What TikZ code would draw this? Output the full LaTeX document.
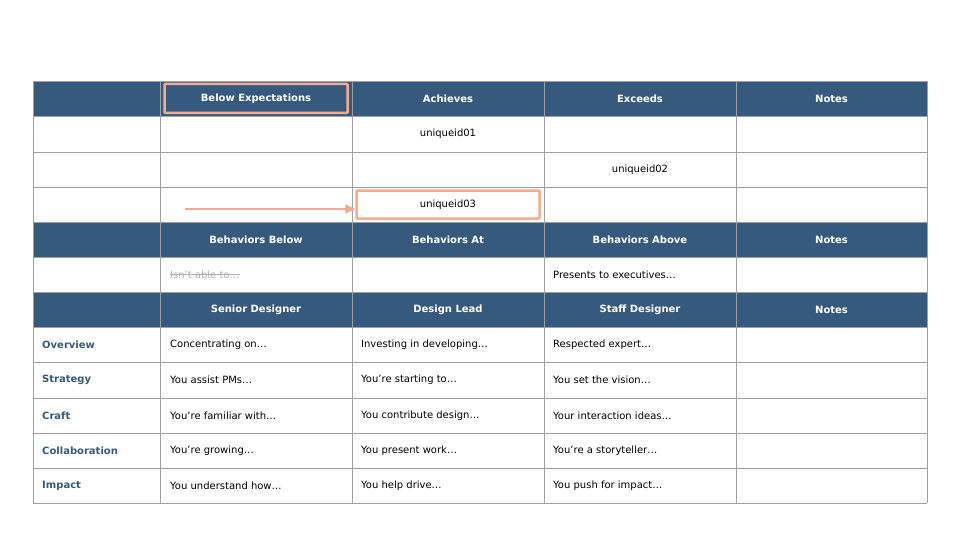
\documentclass[tikz,border=0pt]{standalone}
\usepackage{fontspec}
\setmainfont{DejaVu Sans}
\usetikzlibrary{arrows.meta}
\definecolor{hdr}{HTML}{355A7D}
\definecolor{hl}{HTML}{F5AB8C}
\definecolor{gridc}{HTML}{A0A0A0}
\tikzset{
  cell/.style={font=\fontsize{10}{12}\selectfont, text=black, inner sep=0pt},
  hcell/.style={font=\fontsize{10}{12}\selectfont\bfseries, text=white, inner sep=0pt},
  lcell/.style={font=\fontsize{10}{12}\selectfont\bfseries, text=hdr, anchor=west, inner sep=0pt},
  tcell/.style={cell, anchor=west},
  hlbox/.style={draw=hl, line width=2.5pt, rounded corners=1pt},
}
\begin{document}
\begin{tikzpicture}[x=1pt,y=-1pt]
\useasboundingbox (0,0) rectangle (960,540);
\fill[white] (0,0) rectangle (960,540);
% header fills
\fill[hdr] (33,81) rectangle (927,116);
\fill[hdr] (33,222) rectangle (927,257);
\fill[hdr] (33,292) rectangle (927,327);
% grid
\foreach \y in {81,116,152,187,222,257,292,327,362,398,433,468,503}
  \draw[gridc, line width=0.8pt] (33,\y) -- (927,\y);
\foreach \x in {33,160,352,544,736,927}
  \draw[gridc, line width=0.8pt] (\x,81) -- (\x,503);
% row 1 header
\node[hcell] (h1) at (256,98.5) {Below Expectations};
\node[hcell] (h2) at (448,98.5) {Achieves};
\node[hcell] (h3) at (640,98.5) {Exceeds};
\node[hcell] (h4) at (831.5,98.5) {Notes};
\node[cell] (u1) at (448,134) {uniqueid01};
\node[cell] (u2) at (640,169.5) {uniqueid02};
\node[cell] (u3) at (448,204.5) {uniqueid03};
% row 2 header
\node[hcell] (b1) at (256,239.5) {Behaviors Below};
\node[hcell] (b2) at (448,239.5) {Behaviors At};
\node[hcell] (b3) at (640,239.5) {Behaviors Above};
\node[hcell] (b4) at (831.5,239.5) {Notes};
\node[tcell, text=gridc!80] (s1) at (170,274.5) {Isn’t able to…};
\draw[gridc!80, line width=0.6pt] (s1.west) -- (s1.east);
\node[tcell] (s3) at (553,274.5) {Presents to executives…};
% row 3 header
\node[hcell] (r1) at (256,309.5) {Senior Designer};
\node[hcell] (r2) at (448,309.5) {Design Lead};
\node[hcell] (r3) at (640,309.5) {Staff Designer};
\node[hcell] (r4) at (831.5,309.5) {Notes};
% body
\node[lcell] (l1) at (42,344.5) {Overview};
\node[tcell] (c11) at (170,344.5) {Concentrating on…};
\node[tcell] (c12) at (361,344.5) {Investing in developing…};
\node[tcell] (c13) at (553,344.5) {Respected expert…};
\node[lcell] (l2) at (42,380) {Strategy};
\node[tcell] (c21) at (170,380) {You assist PMs…};
\node[tcell] (c22) at (361,380) {You’re starting to…};
\node[tcell] (c23) at (553,380) {You set the vision…};
\node[lcell] (l3) at (42,415.5) {Craft};
\node[tcell] (c31) at (170,415.5) {You’re familiar with…};
\node[tcell] (c32) at (361,415.5) {You contribute design…};
\node[tcell] (c33) at (553,415.5) {Your interaction ideas…};
\node[lcell] (l4) at (42,450.5) {Collaboration};
\node[tcell] (c41) at (170,450.5) {You’re growing…};
\node[tcell] (c42) at (361,450.5) {You present work…};
\node[tcell] (c43) at (553,450.5) {You’re a storyteller…};
\node[lcell] (l5) at (42,485.5) {Impact};
\node[tcell] (c51) at (170,485.5) {You understand how…};
\node[tcell] (c52) at (361,485.5) {You help drive…};
\node[tcell] (c53) at (553,485.5) {You push for impact…};
% highlights
\node[hlbox, minimum width=183pt, minimum height=29pt] (hb1) at (256,98.5) {};
\node[hlbox, fill=white, minimum width=183pt, minimum height=28pt] (hb2) at (448,204.5) {};
\node[cell] at (hb2) {uniqueid03};
\coordinate (as) at (185,209);
\draw[hl, line width=2pt, -{Triangle[length=10pt,width=9pt]}] (as) -- (hb2.west |- as);
\end{tikzpicture}
\end{document}
